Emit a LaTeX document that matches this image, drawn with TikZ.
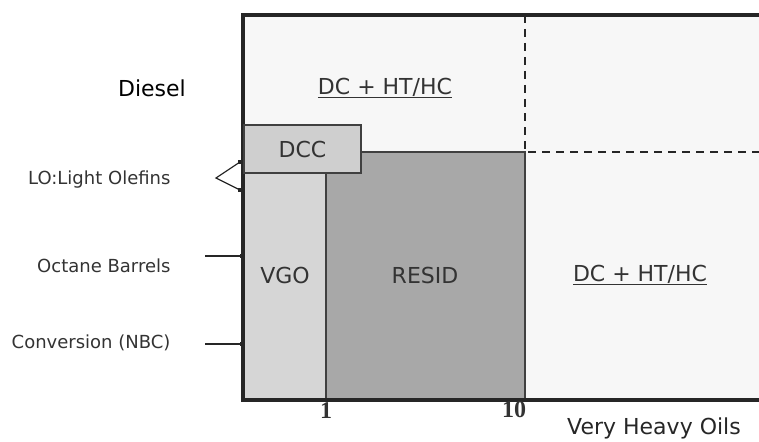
\documentclass[tikz,border=0pt]{standalone}
\usepackage{fontspec}
\setmainfont{DejaVu Sans}
\newfontfamily\tickfont{Liberation Serif}
\usetikzlibrary{positioning}

\begin{document}
\begin{tikzpicture}[x=1pt, y=-1pt,
    frameline/.style={line width=3.2pt, black!85},
    divline/.style={line width=2.8pt, black!85, dash pattern=on 8pt off 6pt},
    region/.style={draw=black!75, line width=1.2pt},
    boxlabel/.style={font=\fontsize{22}{26}\selectfont, text=black!80},
    sidelabel/.style={font=\fontsize{18}{21}\selectfont, text=black!80, anchor=east},
    ticklabel/.style={font=\tickfont\bfseries\fontsize{24}{28}\selectfont, text=black!80},
    feed/.style={line width=1.2pt, black!85},
    feeddot/.style={fill=black!85, minimum size=4.5pt, inner sep=0pt}
]
    \useasboundingbox (0,0) rectangle (759,441);

    % chart area
    \fill[black!3] (243,15) rectangle (759,400);
    \fill[black!16, region] (244,173) rectangle (326,400);
    \fill[black!34, region] (326,152) rectangle (525,400);

    % limits of the upper and right zones
    \draw[divline] (525,15) -- (525,152) -- (759,152);

    % axes
    \draw[frameline] (759,15) -- (243,15) -- (243,400) -- (759,400);

    % process boxes
    \node[boxlabel, region, fill=black!19, minimum width=117pt, minimum height=48pt] (dcc) at (302.5,149) {DCC};
    \node[boxlabel] (vgo) at (285,275) {VGO};
    \node[boxlabel] (resid) at (425,275) {RESID};
    \node[boxlabel] (dcTop) at (385,88) {\underline{DC + HT/HC}};
    \node[boxlabel] (dcRight) at (640,275) {\underline{DC + HT/HC}};

    % products on the left
    \node[boxlabel, text=black] (diesel) at (152,88) {Diesel};
    \node[sidelabel] (olefins) at (174,180) {LO:Light Olefins};
    \node[sidelabel] (octane) at (174,266) {Octane Barrels};
    \node[sidelabel] (conversion) at (174,343) {Conversion (NBC)};

    \coordinate (loTop) at (240,162);
    \coordinate (loTip) at (216,178);
    \coordinate (loBot) at (240,190);
    \draw[feed] (loTop) -- (loTip) -- (loBot);
    \node[feeddot] at (loTop) {};
    \node[feeddot] at (loBot) {};

    \coordinate (octStart) at (205,256);
    \coordinate (octEnd) at (242,256);
    \coordinate (convStart) at (205,344);
    \coordinate (convEnd) at (242,344);
    \draw[feed] (octStart) -- (octEnd);
    \draw[feed] (convStart) -- (convEnd);
    \node[feeddot] at (octEnd) {};
    \node[feeddot] at (convEnd) {};

    % scale
    \node[ticklabel] (tickOne) at (326,411) {1};
    \node[ticklabel] (tickTen) at (514,410) {10};
    \node[boxlabel, text=black!85] (heavy) at (654,428) {Very Heavy Oils};
\end{tikzpicture}
\end{document}
